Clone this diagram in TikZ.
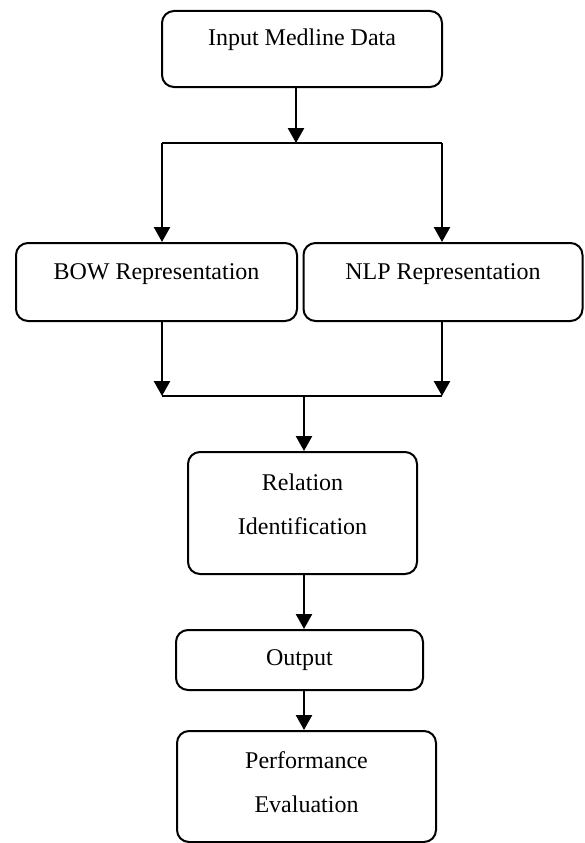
\documentclass[tikz,border=0pt]{standalone}
\usepackage{fontspec}
\setmainfont{Liberation Serif}
\usetikzlibrary{arrows.meta}
\begin{document}
\begin{tikzpicture}[x=1pt,y=-1pt,
  box/.style={draw, line width=2pt, rounded corners=12pt, inner sep=0pt},
  lbl/.style={font=\fontsize{24}{28}\selectfont, inner sep=0pt, anchor=base},
  arr/.style={line width=2.5pt, -{Triangle[width=16pt,length=15pt]}},
  ln/.style={line width=1.6pt}]
\useasboundingbox (0,0) rectangle (584,843);

% boxes
\node[box, minimum width=280pt, minimum height=76pt] (in) at (302,49) {};
\node[box, minimum width=281pt, minimum height=78pt] (bow) at (156.5,282) {};
\node[box, minimum width=279pt, minimum height=78pt] (nlp) at (443,282) {};
\node[box, minimum width=229pt, minimum height=122pt] (rel) at (302.5,513) {};
\node[box, minimum width=247pt, minimum height=60pt] (out) at (299.5,660) {};
\node[box, minimum width=259pt, minimum height=111pt] (perf) at (306.5,786.5) {};

% texts
\node[lbl] (tin) at (302,45.5) {Input Medline Data};
\node[lbl] (tbow) at (156.5,279) {BOW Representation};
\node[lbl] (tnlp) at (443,279) {NLP Representation};
\node[lbl] (trel1) at (302.5,490) {Relation};
\node[lbl] (trel2) at (302.5,534) {Identification};
\node[lbl] (tout) at (299.5,665) {Output};
\node[lbl] (tperf1) at (306.5,768) {Performance};
\node[lbl] (tperf2) at (306.5,812) {Evaluation};

% junction points
\coordinate (s1) at (296,143);
\coordinate (s1l) at (162,143);
\coordinate (s1r) at (442,143);
\coordinate (m2l) at (162,396);
\coordinate (m2r) at (442,396);
\coordinate (m2c) at (304,396);
\coordinate (v3) at (304,0);

% connectors
\draw[arr] (in.south -| s1) -- (s1);
\draw[ln] (s1l) -- (s1r);
\draw[arr] (s1l) -- (bow.north -| s1l);
\draw[arr] (s1r) -- (nlp.north -| s1r);
\draw[arr] (bow.south -| m2l) -- (m2l);
\draw[arr] (nlp.south -| m2r) -- (m2r);
\draw[ln] (m2l) -- (m2r);
\draw[arr] (m2c) -- (rel.north -| m2c);
\draw[arr] (rel.south -| v3) -- (out.north -| v3);
\draw[arr] (out.south -| v3) -- (perf.north -| v3);
\end{tikzpicture}
\end{document}
